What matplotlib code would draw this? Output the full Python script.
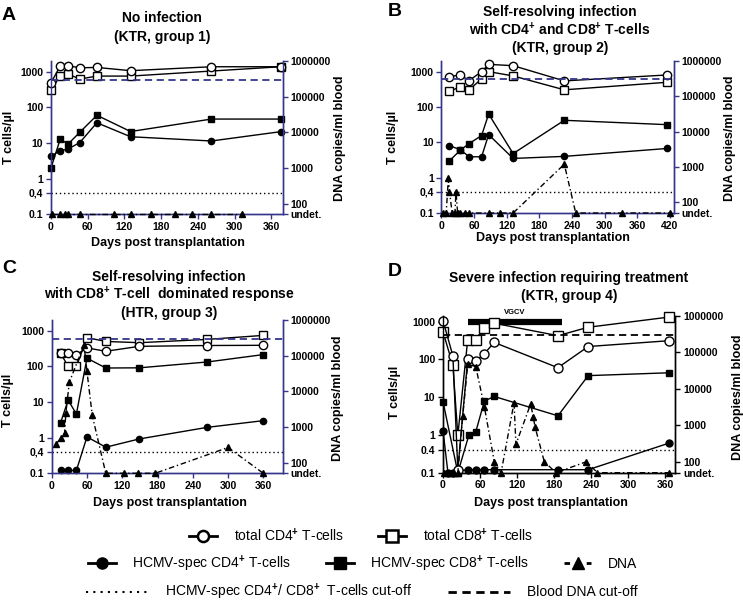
import matplotlib
matplotlib.use("Agg")
import matplotlib.pyplot as plt
from matplotlib.lines import Line2D
from matplotlib.ticker import NullLocator

plt.rcParams['font.family'] = ['Liberation Sans', 'DejaVu Sans']
plt.rcParams['font.weight'] = 'bold'
plt.rcParams['mathtext.fontset'] = 'custom'
plt.rcParams['mathtext.rm'] = 'Liberation Sans'
plt.rcParams['mathtext.bf'] = 'Liberation Sans:bold'
plt.rcParams['mathtext.it'] = 'Liberation Sans:italic'

NAVY = '#35358a'

# ---- data (T cells/ul on the left axis, DNA copies/ml on the right; 50 = undetectable)
# A: no infection
a_days = [0, 15, 28, 47, 75, 130, 262, 375]
a_cd4 = [490, 1440, 1470, 1290, 1320, 1070, 1380, 1380]
a_cd8 = [306, 755, 860, 623, 755, 755, 1045, 1380]
a_cd4_spec = [4.3, 6.1, 6.8, 10.3, 37, 15, 11.4, 20.8]
a_cd8_spec = [2.0, 12.7, 9.4, 20, 60, 21, 47, 47]
a_dna_days = [1, 15, 23, 28, 47, 103, 130, 164, 202, 231, 262, 312]
a_dna = [50, 50, 50, 50, 50, 50, 50, 50, 50, 50, 50, 50]

# B: self-resolving, CD4 and CD8
b_days = [15, 35, 51, 74, 87, 132, 226, 415]
b_cd4 = [723, 806, 558, 1000, 1607, 1475, 547, 806]
b_cd8 = [286, 363, 306, 622, 1000, 756, 306, 500]
b_cd4_spec = [8.0, 6.2, 3.9, 3.9, 16.5, 3.5, 4.0, 6.7]
b_cd8_spec = [3.0, 6.0, 9.2, 15.5, 63, 4.8, 42, 31.6]
b_dna_days = [4, 9, 13, 15, 20, 25, 27, 30, 35, 44, 51, 87, 108, 132, 226, 247, 332, 420]
b_dna = [50, 50, 500, 200, 50, 50, 200, 50, 50, 50, 50, 50, 50, 50, 1200, 50, 50, 50]

# C: self-resolving, CD8 dominated
c_days = [15, 28, 42, 60, 92, 149, 265, 360]
c_cd4 = [245, 243, 213, 330, 265, 365, 385, 390]
c_cd8 = [235, 100, 100, 640, 500, 462, 571, 740]
c_cd4_spec = [0.12, 0.12, 0.12, 1.05, 0.54, 0.92, 1.95, 3.0]
c_cd8_spec = [2.6, 11.3, 4.6, 170, 90, 91, 133, 214]
c_dna_days = [7, 15, 22, 24, 30, 55, 60, 69, 92, 123, 147, 176, 300, 360]
c_dna = [325, 475, 660, 2400, 18000, 200000, 36000, 2100, 50, 50, 50, 50, 265, 50]

# D: severe infection requiring treatment
d_cd4_days = [0, 16, 24, 40, 53, 67, 83, 186, 235, 365]
d_cd4 = [1060, 123, 0.12, 100, 90, 142, 279, 60, 218, 310]
d_cd8_days = [0, 16, 24, 40, 53, 67, 83, 186, 235, 365]
d_cd8 = [540, 69, 0.98, 330, 330, 663, 900, 422, 705, 1306]
d_cd4_spec_days = [0, 8, 16, 24, 40, 53, 67, 83, 186, 235, 365]
d_cd4_spec = [1.3, 0.1, 0.1, 0.11, 0.12, 0.12, 0.12, 0.12, 0.12, 0.12, 0.6]
d_cd8_spec_days = [0, 24, 42, 53, 67, 83, 186, 235, 365]
d_cd8_spec = [7.6, 0.1, 1.0, 1.2, 7.9, 10.4, 3.2, 37, 44]
d_dna_days = [2, 8, 13, 18, 24, 32, 40, 53, 67, 83, 94, 115, 118, 142, 146, 149, 164, 183, 232, 250, 365]
d_dna = [50, 50, 50, 50, 50, 1850, 47000, 41000, 3200, 100, 50, 4200, 300, 3900, 1700, 900, 100, 50, 100, 50, 50]
vgcv_days = [40, 193]

t_cell_cutoff = 0.4
dna_cutoff = 300000

W, H = 743, 601
fig = plt.figure(figsize=(W / 100, H / 100), dpi=100)


def px_rect(x0, y0, x1, y1):
    return [x0 / W, 1 - y1 / H, (x1 - x0) / W, (y1 - y0) / H]


def ftext(x, y, s, **kw):
    fig.text(x / W, 1 - y / H, s, **kw)


def title(x, lines, y_first, step=18):
    # one fig.text per line so the spacing does not depend on mathtext height
    for i, line in enumerate(lines):
        ftext(x, y_first + i * step, line, ha='center', va='center', fontsize=10)


def panel(rect, xmax, xticks, ytop, rtop, col, four_label):
    ax = fig.add_axes(px_rect(*rect))
    ax2 = ax.twinx()
    ax.set_yscale('log')
    ax2.set_yscale('log')
    ax.set_xlim(0, xmax)
    ax.set_ylim(0.1, ytop)
    ax2.set_ylim(50, rtop)
    ax.set_xticks(xticks)
    ax.set_yticks([0.1, 0.4, 1, 10, 100, 1000])
    ax.set_yticklabels(['0.1', four_label, '1', '10', '100', '1000'])
    ax2.set_yticks([50, 100, 1000, 10000, 100000, 1000000])
    ax2.set_yticklabels(['undet.', '100', '1000', '10000', '100000', '1000000'])
    for a in (ax, ax2):
        a.yaxis.set_minor_locator(NullLocator())
        a.spines['top'].set_visible(False)
        for s in ('left', 'right', 'bottom'):
            a.spines[s].set_color(col)
            a.spines[s].set_linewidth(1.0)
        a.tick_params(direction='out', length=3.5, width=1, color=col,
                      labelsize=7.5, pad=2)
    ax.patch.set_visible(False)
    return ax, ax2


def draw(ax, ax2, cd4, cd8, cd4s, cd8s, dna, col, big=False):
    mo = 6.5 if big else 6
    mf = 5 if big else 4.5
    style = dict(color='k', lw=1.0, clip_on=False, zorder=4)
    ax.plot(*cd4s, marker='o', ms=mf, mfc='k', mec='k', **style)
    ax.plot(*cd8s, marker='s', ms=mf, mfc='k', mec='k', **style)
    ax.plot(*cd8, marker='s', ms=mo, mfc='white', mec='k', mew=1.0, **style)
    ax.plot(*cd4, marker='o', ms=mo, mfc='white', mec='k', mew=1.0, **style)
    ax.axhline(t_cell_cutoff, color='k', lw=1.0, ls=(0, (1, 2)), zorder=1)
    ax2.plot(*dna, color='k', lw=1.0, ls=(0, (4, 2, 1, 2)), marker='^',
             ms=mf, clip_on=False, zorder=3)
    ax2.axhline(dna_cutoff, color=col, lw=1.3, ls=(0, (4, 2.5)), zorder=1)


def labels(xl, yl, xr, yr, xb, yb):
    ftext(xl, yl, 'T cells/µl', rotation=90, ha='center', va='center', fontsize=9)
    ftext(xr, yr, 'DNA copies/ml blood', rotation=90, ha='center', va='center', fontsize=9)
    ftext(xb, yb, 'Days post transplantation', ha='center', va='center', fontsize=9)


x360 = [0, 60, 120, 180, 240, 300, 360]
x420 = [0, 60, 120, 180, 240, 300, 360, 420]

# A
ax, ax2 = panel((51, 61, 283, 214.3), 379, x360, 2000, 1e6, NAVY, '0,4')
draw(ax, ax2, (a_days, a_cd4), (a_days, a_cd8), (a_days, a_cd4_spec),
     (a_days, a_cd8_spec), (a_dna_days, a_dna), NAVY)
labels(9, 137, 340, 138, 168, 243)
title(162, ['No infection', '(KTR, group 1)'], 18.5)
ftext(9, 15, 'A', ha='center', va='center', fontsize=14)

# B
ax, ax2 = panel((441.3, 61, 673.7, 213), 427, x420, 2000, 1e6, NAVY, '0,4')
draw(ax, ax2, (b_days, b_cd4), (b_days, b_cd8), (b_days, b_cd4_spec),
     (b_days, b_cd8_spec), (b_dna_days, b_dna), NAVY)
labels(393, 137, 730, 138, 553, 238)
title(560, ['Self-resolving infection',
            'with CD4$^{\\mathbf{+}}$ and CD8$^{\\mathbf{+}}$ T-cells',
            '(KTR, group 2)'], 12)
ftext(395, 11, 'B', ha='center', va='center', fontsize=14)

# C
ax, ax2 = panel((51.7, 320, 282.7, 473.3), 393, x360, 2000, 1e6, NAVY, '0,4')
draw(ax, ax2, (c_days, c_cd4), (c_days, c_cd8), (c_days, c_cd4_spec),
     (c_days, c_cd8_spec), (c_dna_days, c_dna), NAVY)
labels(8, 400, 338, 398, 170, 503)
title(169, ['Self-resolving infection',
            'with CD8$^{\\mathbf{+}}$ T-cell  dominated response',
            '(HTR, group 3)'], 277)
ftext(9, 268, 'C', ha='center', va='center', fontsize=14)

# D
ax, ax2 = panel((443, 316, 675.3, 472.7), 376, x360, 1400, 1e6, 'k', '0.4')
draw(ax, ax2, (d_cd4_days, d_cd4), (d_cd8_days, d_cd8), (d_cd4_spec_days, d_cd4_spec),
     (d_cd8_spec_days, d_cd8_spec), (d_dna_days, d_dna), 'k', big=True)
ax.plot(vgcv_days, [1000, 1000], color='k', lw=4.5, solid_capstyle='butt', clip_on=False)
ax.annotate('VGCV', xy=(sum(vgcv_days) / 2, 1000), xytext=(0, 4), textcoords='offset points',
            ha='center', va='bottom', fontsize=5.5, annotation_clip=False)
labels(395, 392, 738, 397, 551, 503)
title(569, ['Severe infection requiring treatment', '(KTR, group 4)'], 278)
ftext(395, 271, 'D', ha='center', va='center', fontsize=14)

# ---- legend, three rows
h_cd4 = Line2D([], [], color='k', lw=2, marker='o', ms=8, mfc='white', mec='k', mew=1.8)
h_cd8 = Line2D([], [], color='k', lw=2, marker='s', ms=8, mfc='white', mec='k', mew=1.8)
h_cd4s = Line2D([], [], color='k', lw=2, marker='o', ms=8, mfc='k', mec='k')
h_cd8s = Line2D([], [], color='k', lw=2, marker='s', ms=8, mfc='k', mec='k')
h_dna = Line2D([], [], color='k', lw=2, ls=(0, (2, 2)), marker='^', ms=8)
h_dot = Line2D([], [], color='k', lw=1.5, ls=(0, (1, 2.5)))
h_dash = Line2D([], [], color='k', lw=2, ls=(0, (3, 2)))

leg_kw = dict(loc='center', frameon=False, prop={'weight': 'normal', 'size': 10},
              handletextpad=1.2, columnspacing=2.5, borderpad=0, borderaxespad=0)
fig.legend([h_cd4, h_cd8], ['total CD4$^{+}$ T-cells', 'total CD8$^{+}$ T-cells'],
           ncol=2, handlelength=2.0, bbox_to_anchor=(0.486, 1 - 535.3 / H), **leg_kw)
fig.legend([h_cd4s, h_cd8s, h_dna],
           ['HCMV-spec CD4$^{+}$ T-cells', 'HCMV-spec CD8$^{+}$ T-cells', 'DNA'],
           ncol=3, handlelength=2.0, bbox_to_anchor=(0.488, 1 - 563.7 / H), **leg_kw)
fig.legend([h_dot, h_dash],
           ['HCMV-spec CD4$^{+}$/ CD8$^{+}$  T-cells cut-off', 'Blood DNA cut-off'],
           ncol=2, handlelength=4.5, bbox_to_anchor=(0.487, 1 - 592 / H), **leg_kw)

fig.savefig('out.png', dpi=100)
